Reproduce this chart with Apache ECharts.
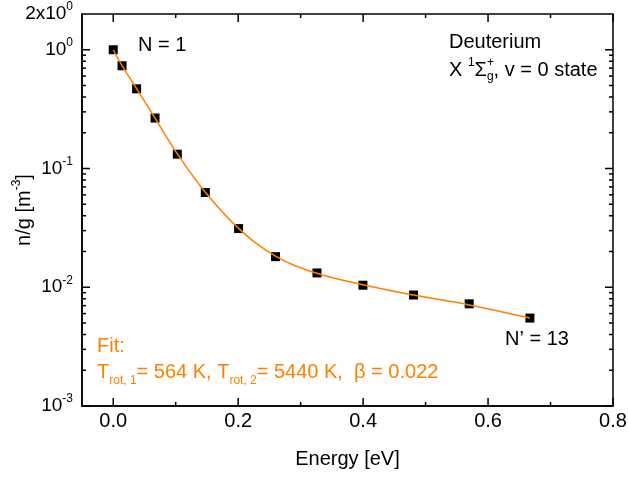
<!DOCTYPE html>
<html>
<head>
<meta charset="utf-8">
<script src="https://cdn.jsdelivr.net/npm/echarts@6/dist/echarts.min.js"></script>
<style>html,body{margin:0;padding:0;background:#fff}#c{width:628px;height:480px}</style>
</head>
<body>
<div id="c"></div>
<script>
// ---- data ----
const energy  = [0, 0.0141, 0.0374, 0.0669, 0.1026, 0.1474, 0.2006, 0.2598, 0.3261, 0.3997, 0.4806, 0.5698, 0.667];
const density = [1.0, 0.733, 0.469, 0.266, 0.132, 0.0628, 0.0312, 0.0181, 0.0132, 0.0104, 0.0086, 0.00725, 0.0055];
const fitEnergy  = [0, 0.0141, 0.0374, 0.0669, 0.1026, 0.1474, 0.2006, 0.2598, 0.3261, 0.3997, 0.4806, 0.5698, 0.667];
const fitDensity = [1.0, 0.735, 0.47, 0.266, 0.133, 0.0632, 0.0313, 0.0183, 0.0131, 0.0105, 0.0086, 0.0071, 0.0055];
const xMajor = [0, 0.2, 0.4, 0.6, 0.8];
const xMinor = [0.1, 0.3, 0.5, 0.7];
const yMajor = [0.001, 0.01, 0.1, 1];
const yLabelValues = [0.001, 0.01, 0.1, 1, 2];
const yMinor = [];
[0.001, 0.01, 0.1].forEach(d => { for (let k = 2; k <= 9; k++) yMinor.push(+(d * k).toPrecision(3)); });

const FONT = 'Liberation Sans';
const ORANGE = '#ff8000';
const black = '#000';
const FS = 20;
const X_MIN = -0.05, X_MAX = 0.8, Y_MIN = 0.001, Y_MAX = 2;
const G_LEFT = 82, G_RIGHT = 15, G_TOP = 14, G_BOTTOM = 74, W = 628, H = 480;
const pxPerX = (W - G_LEFT - G_RIGHT) / (X_MAX - X_MIN);
const pxPerDecade = (H - G_TOP - G_BOTTOM) / Math.log10(Y_MAX / Y_MIN);

function yLabel(v) {
  if (Math.abs(v - 2) < 1e-9) return '{b|2x10}{s|0}';
  const e = Math.round(Math.log10(v));
  return '{b|10}{s|' + e + '}';
}
const supRich = {
  b: { fontSize: 19, fontFamily: FONT, color: black, lineHeight: 26 },
  s: { fontSize: 12, fontFamily: FONT, color: black, lineHeight: 12, verticalAlign: 'top' }
};
const nameRich = {
  b: { fontSize: FS, fontFamily: FONT, color: black, lineHeight: 26 },
  s: { fontSize: 12, fontFamily: FONT, color: black, lineHeight: 12, verticalAlign: 'top' }
};

// tick marks as short line segments on all four sides of the frame
const tickSeries = [];
function seg(p1, p2) {
  tickSeries.push({ type: 'line', data: [p1, p2], showSymbol: false, symbol: 'none', clip: false,
                    silent: true, z: 10, lineStyle: { color: black, width: 1.5 } });
}
function xTick(v, len) {
  const f = Math.pow(10, len / pxPerDecade);
  seg([v, Y_MIN], [v, Y_MIN * f]);
  seg([v, Y_MAX], [v, Y_MAX / f]);
}
function yTick(v, len) {
  const d = len / pxPerX;
  seg([X_MIN, v], [X_MIN + d, v]);
  seg([X_MAX, v], [X_MAX - d, v]);
}
xMajor.forEach(v => xTick(v, 8));
xMinor.forEach(v => xTick(v, 4));
yMajor.forEach(v => yTick(v, 8));
yMinor.forEach(v => yTick(v, 4));

const option = {
  animation: false,
  backgroundColor: '#fff',
  grid: { left: G_LEFT, right: G_RIGHT, top: G_TOP, bottom: G_BOTTOM, containLabel: false, outerBoundsMode: 'none',
          show: true, borderColor: black, borderWidth: 1.5, backgroundColor: 'rgba(0,0,0,0)' },
  xAxis: {
    type: 'value', position: 'bottom', min: X_MIN, max: X_MAX,
    axisLine: { show: true, onZero: false, lineStyle: { color: black, width: 1.5 } },
    axisTick: { show: false },
    axisLabel: { show: true, customValues: xMajor, formatter: v => v.toFixed(1),
                 fontSize: FS, fontFamily: FONT, color: black, margin: 5 },
    splitLine: { show: false },
    name: 'Energy [eV]', nameLocation: 'middle', nameGap: 43, nameMoveOverlap: false,
    nameTextStyle: { fontSize: FS, fontFamily: FONT, color: black }
  },
  yAxis: {
    type: 'log', logBase: 10, position: 'left', min: Y_MIN, max: Y_MAX,
    axisLine: { show: true, onZero: false, lineStyle: { color: black, width: 1.5 } },
    axisTick: { show: false },
    axisLabel: { show: true, customValues: yLabelValues, formatter: yLabel, rich: supRich, margin: 9 },
    splitLine: { show: false },
    name: '{b|n/g [m}{s|-3}{b|]}', nameLocation: 'middle', nameGap: 45, nameMoveOverlap: false,
    nameTextStyle: { fontSize: FS, fontFamily: FONT, color: black, rich: nameRich }
  },
  series: tickSeries.concat([
    { type: 'scatter', symbol: 'rect', symbolSize: 9,
      itemStyle: { color: black, opacity: 1 }, data: energy.map((e, i) => [e, density[i]]), z: 2 },
    { type: 'line', smooth: 0.4, showSymbol: false, symbol: 'none',
      lineStyle: { color: ORANGE, width: 1.5 }, data: fitEnergy.map((e, i) => [e, fitDensity[i]]), z: 3 }
  ]),
  graphic: { elements: [
    { type: 'text', x: 138, y: 45, style: { text: 'N = 1', fontSize: FS, fontFamily: FONT, fill: black, textVerticalAlign: 'middle' } },
    { type: 'text', x: 449, y: 42, style: { text: 'Deuterium', fontSize: FS, fontFamily: FONT, fill: black, textVerticalAlign: 'middle' } },
    { type: 'text', x: 449, y: 70, style: { text: '{b|X }{s|1}{b|Σ}{g|g}{b|, v = 0 state}', textVerticalAlign: 'middle',
        rich: { b: { fontSize: FS, fontFamily: FONT, fill: black, lineHeight: 26 },
                s: { fontSize: 12, fontFamily: FONT, fill: black, lineHeight: 12, verticalAlign: 'top' },
                g: { fontSize: 12, fontFamily: FONT, fill: black, lineHeight: 12, verticalAlign: 'bottom' } } } },
    { type: 'text', x: 449, y: 70, style: { text: '{b|X }{s|1}{b|Σ}{p|+}', textVerticalAlign: 'middle',
        rich: { b: { fontSize: FS, fontFamily: FONT, fill: 'rgba(0,0,0,0)', lineHeight: 26 },
                s: { fontSize: 12, fontFamily: FONT, fill: 'rgba(0,0,0,0)', lineHeight: 12, verticalAlign: 'top' },
                p: { fontSize: 12, fontFamily: FONT, fill: black, lineHeight: 12, verticalAlign: 'top' } } } },
    { type: 'text', x: 505, y: 339, style: { text: 'N’ = 13', fontSize: FS, fontFamily: FONT, fill: black, textVerticalAlign: 'middle' } },
    { type: 'text', x: 97, y: 346, style: { text: 'Fit:', fontSize: FS, fontFamily: FONT, fill: ORANGE, textVerticalAlign: 'middle' } },
    { type: 'text', x: 97, y: 372, style: { text: '{n|T}{u|rot, 1}{n|= 564 K, T}{u|rot, 2}{n|= 5440 K,  β = 0.022}', textVerticalAlign: 'middle',
        rich: { n: { fontSize: FS, fontFamily: FONT, fill: ORANGE, lineHeight: 30 },
                u: { fontSize: 12, fontFamily: FONT, fill: ORANGE, lineHeight: 12, verticalAlign: 'bottom' } } } }
  ] }
};
const chart = echarts.init(document.getElementById('c'), null, { renderer: 'canvas' });
chart.setOption(option);
</script>
</body>
</html>
